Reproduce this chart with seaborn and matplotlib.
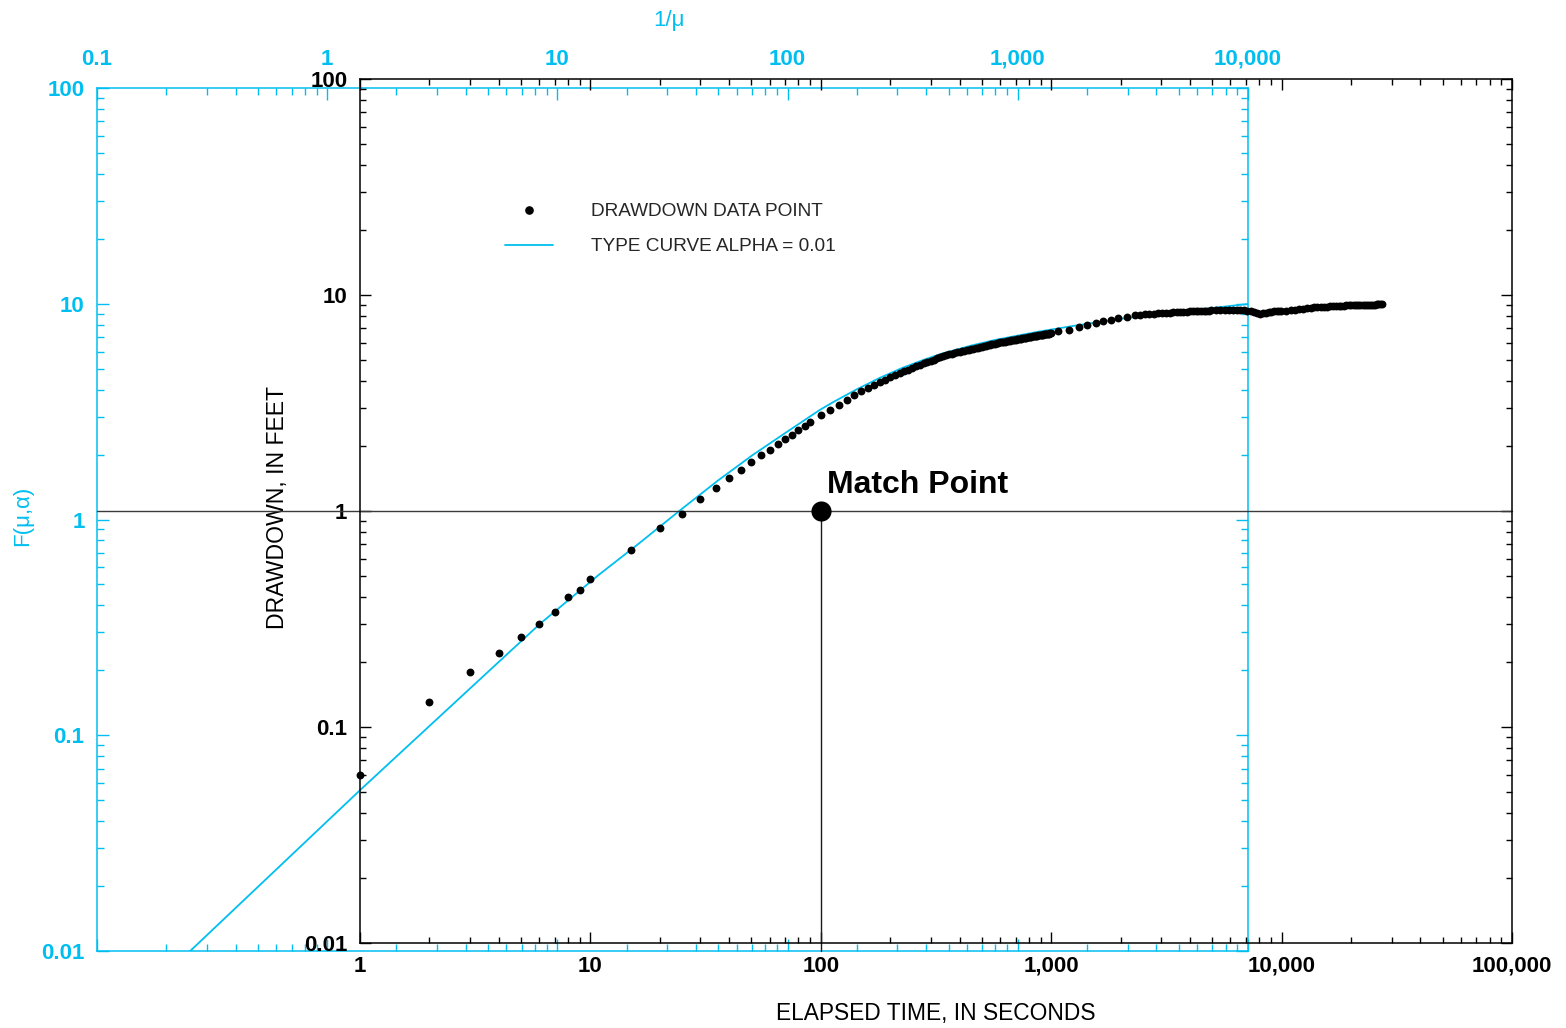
import numpy as np
import pandas as pd
import matplotlib
matplotlib.use("Agg")
import matplotlib.pyplot as plt
import seaborn as sns
from matplotlib.ticker import LogLocator, NullFormatter
from matplotlib.lines import Line2D

CYAN = "#00BFF0"

# ---------------- data ----------------
# drawdown data points: elapsed time (s) and drawdown (ft)
early_time = [1, 2, 3, 4, 5, 6, 7, 8, 9, 10, 15, 20, 25, 30, 35, 40, 45, 50,
              55, 60, 65, 70, 75, 80, 85, 90]
early_drawdown = [0.0602, 0.130, 0.180, 0.220, 0.261, 0.300, 0.341, 0.401, 0.432,
                  0.482, 0.659, 0.831, 0.971, 1.14, 1.274, 1.418, 1.549, 1.687,
                  1.812, 1.918, 2.038, 2.149, 2.258, 2.367, 2.470, 2.578]

mid_time = [100, 110, 120, 130, 140, 150, 160, 170, 180, 190, 200, 210, 220, 230,
            240, 250, 260, 270, 280, 290, 300, 310, 320, 330, 340, 350, 360, 370,
            380, 390, 400, 410, 420, 430, 440, 450, 460, 470, 480, 490, 500, 510,
            520, 530, 540, 550, 560, 570, 580, 590, 600, 610, 620, 630, 640, 650,
            660, 670, 680, 690, 700, 710, 720, 730, 740, 750, 760, 770, 780, 790,
            800, 810, 820, 830, 840, 850, 860, 870, 880, 890, 900, 910, 920, 930,
            940, 950, 960, 970, 980, 990, 1000]
mid_drawdown = [2.79, 2.94, 3.11, 3.28, 3.44, 3.59, 3.72, 3.84, 3.95, 4.05, 4.16,
                4.26, 4.34, 4.43, 4.51, 4.59, 4.67, 4.74, 4.82, 4.89, 4.95, 5.02,
                5.09, 5.16, 5.22, 5.27, 5.31, 5.35, 5.38, 5.42, 5.45, 5.49, 5.52,
                5.55, 5.58, 5.61, 5.64, 5.67, 5.70, 5.73, 5.76, 5.79, 5.82, 5.85,
                5.87, 5.90, 5.93, 5.96, 5.98, 6.01, 6.03, 6.05, 6.07, 6.09, 6.11,
                6.13, 6.14, 6.16, 6.18, 6.20, 6.22, 6.24, 6.25, 6.27, 6.28, 6.30,
                6.32, 6.34, 6.35, 6.37, 6.38, 6.40, 6.41, 6.43, 6.45, 6.46, 6.47,
                6.49, 6.50, 6.52, 6.53, 6.55, 6.56, 6.58, 6.59, 6.60, 6.61, 6.62,
                6.63, 6.64, 6.65]

sparse_time = [1074, 1195, 1320, 1435, 1561, 1684, 1818, 1956, 2127, 2311]
sparse_drawdown = [6.78, 6.88, 7.08, 7.26, 7.44, 7.54, 7.66, 7.82, 7.93, 8.04]

late_time = [2430, 2550, 2670, 2790, 2910, 3030, 3150, 3270, 3390, 3510, 3630,
             3750, 3870, 3990, 4110, 4230, 4350, 4470, 4590, 4710, 4830, 4950,
             5190, 5430, 5670, 5910, 6150, 6390, 6630, 6870, 7110, 7350, 7590,
             7830, 8070, 8310, 8550, 8790, 9030, 9270, 9510, 9750, 9990,
             10470, 10950, 11430, 11910, 12390, 12870, 13350, 13830, 14310, 14790,
             15270, 15750, 16230, 16710, 17190, 17670, 18150, 18630, 19110, 19590,
             20070, 20550, 21030, 21510, 21990, 22470, 22950, 23430, 23910, 24390,
             24870, 25350, 25830, 26310, 26790, 27270]
late_drawdown = [8.12, 8.15, 8.19, 8.21, 8.23, 8.25, 8.27, 8.29, 8.31, 8.33, 8.35,
                 8.37, 8.38, 8.39, 8.40, 8.41, 8.43, 8.44, 8.45, 8.46, 8.47, 8.48,
                 8.49, 8.50, 8.50, 8.51, 8.50, 8.50, 8.49, 8.48, 8.46, 8.42, 8.35,
                 8.24, 8.18, 8.22, 8.28, 8.33, 8.37, 8.40, 8.42, 8.44, 8.45,
                 8.47, 8.50, 8.55, 8.60, 8.64, 8.69, 8.73, 8.76, 8.78, 8.80,
                 8.82, 8.83, 8.85, 8.86, 8.88, 8.90, 8.92, 8.94, 8.95, 8.96,
                 8.97, 8.97, 8.97, 8.97, 8.98, 8.98, 8.99, 8.99, 9.00, 9.01,
                 9.02, 9.03, 9.04, 9.05, 9.06, 9.07]

# type curve alpha = 0.01 : 1/u and F(u, alpha)
curve_inv_u = [0.254, 1.39, 4.0, 8.39, 15.0, 22.8, 34.0, 50.0, 70.5, 100, 138,
               158.5, 199.5, 251, 316, 398, 468, 631, 794, 1000, 1245, 1778,
               2754, 5012, 9950]
curve_F = [0.01, 0.0557, 0.158, 0.328, 0.55, 0.78, 1.10, 1.52, 1.99, 2.56, 3.22,
           3.51, 4.01, 4.53, 5.05, 5.54, 5.87, 6.41, 6.79, 7.12, 7.44, 7.92,
           8.50, 9.18, 9.97]

match_time = [100]
match_drawdown = [1.0]

black_x_ticks = [1, 10, 100, 1000, 10000, 100000]
black_x_labels = ["1", "10", "100", "1,000", "10,000", "100,000"]
black_y_ticks = [0.01, 0.1, 1, 10, 100]
black_y_labels = ["0.01", "0.1", "1", "10", "100"]
cyan_x_ticks = [0.1, 1, 10, 100, 1000, 10000]
cyan_x_labels = ["0.1", "1", "10", "100", "1,000", "10,000"]
cyan_y_ticks = [0.01, 0.1, 1, 10, 100]
cyan_y_labels = ["0.01", "0.1", "1", "10", "100"]

data = pd.DataFrame({
    "time": early_time + mid_time + sparse_time + late_time,
    "drawdown": early_drawdown + mid_drawdown + sparse_drawdown + late_drawdown,
})
curve = pd.DataFrame({"inv_u": curve_inv_u, "F": curve_F})

# ---------------- figure ----------------
sns.set_theme(style="white")
plt.rcParams["font.family"] = ["Liberation Sans", "DejaVu Sans"]

W, H = 1566, 1028
fig = plt.figure(figsize=(W / 100, H / 100), dpi=100)
fig.patch.set_facecolor("white")

# cyan (type-curve) axes, behind
ax2 = fig.add_axes([97 / W, 1 - 951 / H, (1248 - 97) / W, (951 - 88) / H])
# black (data) axes, on top
ax1 = fig.add_axes([360 / W, 1 - 943 / H, (1512 - 360) / W, (943 - 79) / H])
ax1.patch.set_alpha(0)

# type curve
sns.lineplot(data=curve, x="inv_u", y="F", ax=ax2, color=CYAN, lw=1.3,
             sort=False, estimator=None, legend=False)
ax2.set_xscale("log")
ax2.set_yscale("log")

# data points
sns.scatterplot(data=data, x="time", y="drawdown", ax=ax1, color="black", s=32,
                linewidth=0, legend=False, clip_on=False, zorder=4)
ax1.set_xscale("log")
ax1.set_yscale("log")

# ---------------- ticks / spines ----------------
for ax, col in ((ax1, "black"), (ax2, CYAN)):
    for sp in ax.spines.values():
        sp.set_color(col)
        sp.set_linewidth(1.1)
        sp.set_visible(True)
    ax.xaxis.set_minor_locator(LogLocator(base=10, subs=np.arange(2, 10)))
    ax.yaxis.set_minor_locator(LogLocator(base=10, subs=np.arange(2, 10)))
    ax.xaxis.set_minor_formatter(NullFormatter())
    ax.yaxis.set_minor_formatter(NullFormatter())
    ax.grid(False)

ax1.set_xticks(black_x_ticks)
ax1.set_xticklabels(black_x_labels)
ax1.set_yticks(black_y_ticks)
ax1.set_yticklabels(black_y_labels)
ax1.set_xlim(1, 100000)
ax1.set_ylim(0.01, 100)
ax1.tick_params(which="both", direction="in", top=True, bottom=True, left=True,
                right=True, colors="black", width=1.0)
ax1.tick_params(which="major", length=8)
ax1.tick_params(which="minor", length=4.5)
ax1.tick_params(axis="x", which="major", pad=9)
ax1.tick_params(axis="y", which="major", pad=9)
for lab in ax1.get_xticklabels() + ax1.get_yticklabels():
    lab.set_fontweight("bold")
    lab.set_fontsize(16)

ax2.set_xticks(cyan_x_ticks)
ax2.set_xticklabels(cyan_x_labels)
ax2.set_yticks(cyan_y_ticks)
ax2.set_yticklabels(cyan_y_labels)
ax2.set_xlim(0.1, 10000)
ax2.set_ylim(0.01, 100)
ax2.tick_params(which="both", direction="in", top=True, bottom=True, left=True,
                right=True, labeltop=True, labelbottom=False, labelleft=True,
                labelright=False, colors=CYAN, width=1.0)
ax2.tick_params(which="major", length=8.5)
ax2.tick_params(which="minor", length=5)
ax2.tick_params(axis="x", which="major", pad=13)
ax2.tick_params(axis="y", which="major", pad=9)
for lab in ax2.get_xticklabels() + ax2.get_yticklabels():
    lab.set_fontweight("bold")
    lab.set_fontsize(16)

# ---------------- axis titles ----------------
ax1.set_xlabel("ELAPSED TIME, IN SECONDS", fontsize=16.4, color="black")
ax1.xaxis.set_label_coords(0.5, -0.0683)
ax1.set_ylabel("DRAWDOWN, IN FEET", fontsize=16.6, color="black")
ax1.yaxis.set_label_coords(-0.0612, 0.5046)

ax2.xaxis.set_label_position("top")
ax2.set_xlabel("1/\u03bc", fontsize=16, color=CYAN)
ax2.xaxis.set_label_coords(0.497, 1.072)
ax2.set_ylabel("F(\u03bc,\u03b1)", fontsize=16, color=CYAN)
ax2.yaxis.set_label_coords(-0.0556, 0.504)

# ---------------- match point ----------------
fig.canvas.draw()
inv = ax1.transData.inverted()
x_left, y_bottom = inv.transform(ax2.transAxes.transform((0, 0)))
mt, md = match_time[0], match_drawdown[0]
ax1.plot([x_left, 100000], [md, md], color="#3a3a3a", lw=1.0, clip_on=False, zorder=2)
ax1.plot([mt, mt], [y_bottom, md], color="#1a1a1a", lw=1.0, clip_on=False, zorder=2)
ax1.scatter(match_time, match_drawdown, s=210, color="black", zorder=6, linewidths=0)
ax1.annotate("Match Point", xy=(mt, md), xytext=(4.5, 19), textcoords="offset points",
             ha="left", va="center", fontsize=23, fontweight="bold", color="black")

# ---------------- legend ----------------
handles = [Line2D([], [], marker="o", color="black", linestyle="None", markersize=5.2),
           Line2D([], [], color=CYAN, lw=1.3)]
labels = ["DRAWDOWN DATA POINT", "TYPE CURVE ALPHA = 0.01"]
ax1.legend(handles, labels, loc="upper left", bbox_to_anchor=(505 / W, 1 - 203 / H),
           bbox_transform=fig.transFigure, frameon=False, fontsize=13.7,
           handlelength=2.5, handletextpad=2.0, labelspacing=0.93,
           borderpad=0, borderaxespad=0)

fig.savefig("out.png", dpi=100, facecolor="white")
